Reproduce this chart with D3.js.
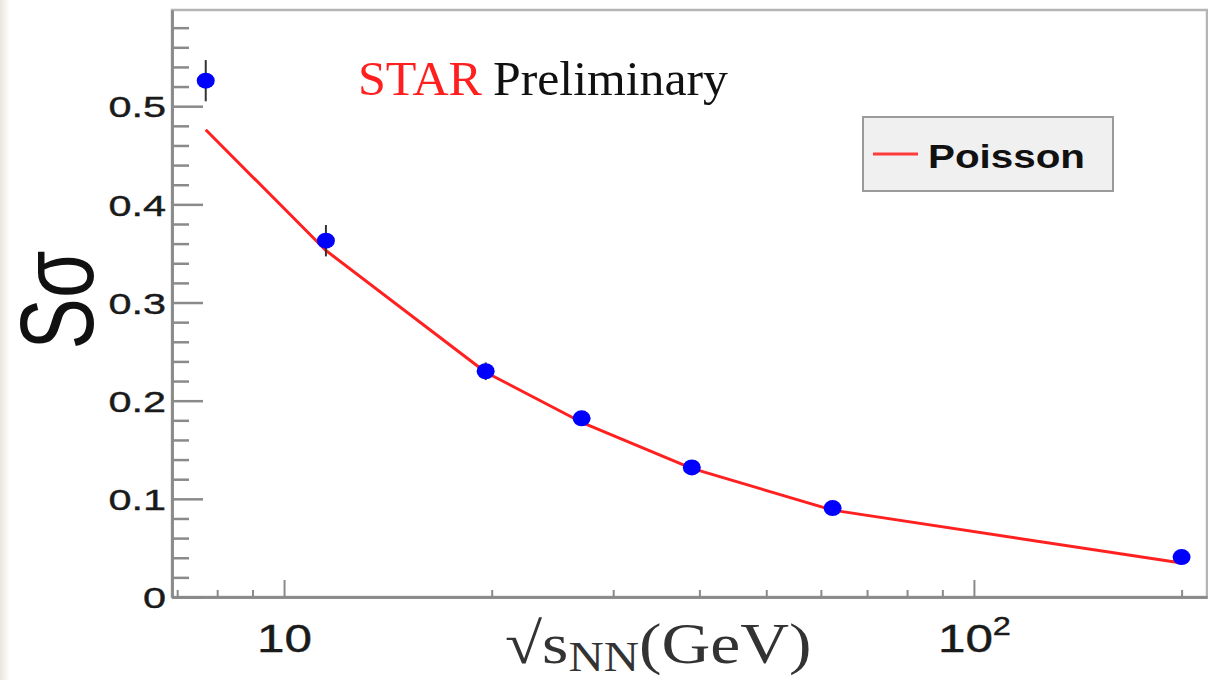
<!DOCTYPE html>
<html>
<head>
<meta charset="utf-8">
<script src="https://cdn.jsdelivr.net/npm/d3@7"></script>
<style>
  html, body { margin: 0; padding: 0; background: #fff; }
  svg { display: block; }
</style>
</head>
<body>
<svg id="chart" width="1208" height="680"></svg>
<script>
// Collision energies (GeV) and the measured S·sigma of the net-proton distribution
const energies = [7.7, 11.5, 19.6, 27, 39, 62.4, 200];
const sSigma   = [0.526, 0.363, 0.230, 0.182, 0.132, 0.0906, 0.0407];
const sErrors  = [0.021, 0.016, 0.009, 0.006, 0.005, 0.004, 0.004];
// Poisson expectation at the same energies
const poisson  = [0.476, 0.353, 0.229, 0.178, 0.131, 0.0885, 0.0346];

// Axis ticks
const yMajor = [0, 0.1, 0.2, 0.3, 0.4, 0.5];
const yMinor = [0.02,0.04,0.06,0.08,0.12,0.14,0.16,0.18,0.22,0.24,0.26,0.28,
                0.32,0.34,0.36,0.38,0.42,0.44,0.46,0.48,0.52,0.54,0.56,0.58];
const xMajor = [10, 100];
const xMinor = [7, 8, 9, 20, 30, 40, 50, 60, 70, 80, 90, 200];
const xDomain = [6.88, 217.7];
const yDomain = [0, 0.598];

const svg = d3.select("#chart");
const W = 1208, H = 680;
const plot = { left: 172, right: 1207, top: 10, bottom: 597 };

// faint paper edge on the left
const defs = svg.append("defs");
const grad = defs.append("linearGradient").attr("id", "edge").attr("x1", 0).attr("x2", 1);
grad.append("stop").attr("offset", 0).attr("stop-color", "#ebe6dc");
grad.append("stop").attr("offset", 1).attr("stop-color", "#ffffff");
svg.append("rect").attr("x", 0).attr("y", 0).attr("width", 10).attr("height", H).attr("fill", "url(#edge)");

const x = d3.scaleLog().domain(xDomain).range([plot.left, plot.right]);
const y = d3.scaleLinear().domain(yDomain).range([plot.bottom, plot.top]);

const axisColor = "#8a8a8a";
const sans = "'Liberation Sans', Arial, sans-serif";
const serif = "'Liberation Serif', 'Times New Roman', serif";

// frame
svg.append("rect")
  .attr("x", plot.left).attr("y", plot.top)
  .attr("width", plot.right - plot.left).attr("height", plot.bottom - plot.top)
  .attr("fill", "none").attr("stroke", "#b5b5b5").attr("stroke-width", 2.5);

// y axis: minor then major ticks pointing into the frame
const gyMinor = svg.append("g").attr("transform", `translate(${plot.left},0)`)
  .call(d3.axisLeft(y).tickValues(yMinor).tickSizeInner(-17).tickSizeOuter(0).tickFormat(""));
const gy = svg.append("g").attr("transform", `translate(${plot.left},0)`)
  .call(d3.axisLeft(y).tickValues(yMajor).tickSizeInner(-31).tickSizeOuter(0)
        .tickFormat(d => d === 0 ? "0" : d3.format(".1f")(d)));
[gyMinor, gy].forEach(g => {
  g.select(".domain").attr("stroke", axisColor).attr("stroke-width", 2.5);
  g.selectAll(".tick line").attr("stroke", axisColor).attr("stroke-width", 2.5);
});
gy.selectAll(".tick text")
  .attr("x", null)
  .attr("transform", "translate(-6,0) scale(1.38,1)")
  .attr("dy", "0.36em")
  .attr("text-anchor", "end")
  .attr("font-family", sans)
  .attr("font-size", 30)
  .attr("fill", "#1a1a1a")
  .attr("stroke", "#1a1a1a").attr("stroke-width", 0.4);

// x axis: log scale with minor ticks
const gxMinor = svg.append("g").attr("transform", `translate(0,${plot.bottom})`)
  .call(d3.axisBottom(x).tickValues(xMinor).tickSizeInner(-7).tickSizeOuter(0).tickFormat(""));
const gx = svg.append("g").attr("transform", `translate(0,${plot.bottom})`)
  .call(d3.axisBottom(x).tickValues(xMajor).tickSizeInner(-17).tickSizeOuter(0).tickFormat(""));
[gxMinor, gx].forEach(g => {
  g.select(".domain").attr("stroke", axisColor).attr("stroke-width", 2.5);
  g.selectAll(".tick line").attr("stroke", axisColor).attr("stroke-width", 2);
});
gx.selectAll(".tick").each(function(d) {
  const t = d3.select(this).append("text")
    .attr("transform", "translate(0,55) scale(1.3,1)")
    .attr("text-anchor", "middle")
    .attr("font-family", sans)
    .attr("font-size", 38)
    .attr("fill", "#1a1a1a")
    .attr("stroke", "#1a1a1a").attr("stroke-width", 0.4);
  const exp = Math.round(Math.log10(d));
  if (exp === 1) {
    t.text("10");
  } else {
    t.append("tspan").text("10");
    t.append("tspan").attr("font-size", 25).attr("dy", -17).text(exp);
  }
});

// axis titles
const xTitle = svg.append("text")
  .attr("transform", "translate(505,663) scale(1.165,1)")
  .attr("font-family", serif)
  .attr("fill", "#333")
  .attr("font-size", 58);
xTitle.append("tspan").text("\u221As");
xTitle.append("tspan").attr("font-size", 42).attr("dy", 8).text("NN");
xTitle.append("tspan").attr("dy", -8).text("(GeV)");

svg.append("text")
  .attr("transform", "translate(93,300) scale(1.35,1) rotate(-90)")
  .attr("text-anchor", "middle")
  .attr("font-family", sans)
  .attr("font-size", 77)
  .attr("fill", "#111")
  .text("S\u03C3");

// STAR Preliminary
svg.append("text")
  .attr("x", 358).attr("y", 95)
  .attr("font-family", serif).attr("font-size", 48)
  .attr("textLength", 124).attr("lengthAdjust", "spacingAndGlyphs")
  .attr("fill", "#ff1f1f")
  .text("STAR");
svg.append("text")
  .attr("x", 493).attr("y", 95)
  .attr("font-family", serif).attr("font-size", 48)
  .attr("textLength", 235).attr("lengthAdjust", "spacingAndGlyphs")
  .attr("fill", "#111")
  .text("Preliminary");

// Poisson expectation, joined point to point
const curveData = energies.map((e, i) => ({ e, v: poisson[i] }));
svg.append("path")
  .datum(curveData)
  .attr("fill", "none")
  .attr("stroke", "#ff2020")
  .attr("stroke-width", 3)
  .attr("stroke-linejoin", "round")
  .attr("d", d3.line().x(d => x(d.e)).y(d => y(d.v)));

// measured points with statistical errors
const pts = energies.map((e, i) => ({ e, v: sSigma[i], err: sErrors[i] }));
svg.append("g").selectAll("line").data(pts).join("line")
  .attr("x1", d => x(d.e)).attr("x2", d => x(d.e))
  .attr("y1", d => y(d.v - d.err)).attr("y2", d => y(d.v + d.err))
  .attr("stroke", "#333").attr("stroke-width", 2);
svg.append("g").selectAll("ellipse").data(pts).join("ellipse")
  .attr("cx", d => x(d.e)).attr("cy", d => y(d.v))
  .attr("rx", 9).attr("ry", 8)
  .attr("fill", "#0000ff");

// legend
const leg = svg.append("g").attr("transform", "translate(863,117)");
leg.append("rect").attr("width", 250).attr("height", 74)
  .attr("fill", "#f0f0f0").attr("stroke", "#9a9a9a").attr("stroke-width", 2);
leg.append("line").attr("x1", 10).attr("x2", 55).attr("y1", 37).attr("y2", 37)
  .attr("stroke", "#ff3a3a").attr("stroke-width", 3);
leg.append("text").attr("x", 65).attr("y", 51)
  .attr("font-family", sans)
  .attr("font-weight", "bold").attr("font-size", 33)
  .attr("textLength", 157).attr("lengthAdjust", "spacingAndGlyphs")
  .attr("fill", "#111")
  .text("Poisson");
</script>
</body>
</html>
